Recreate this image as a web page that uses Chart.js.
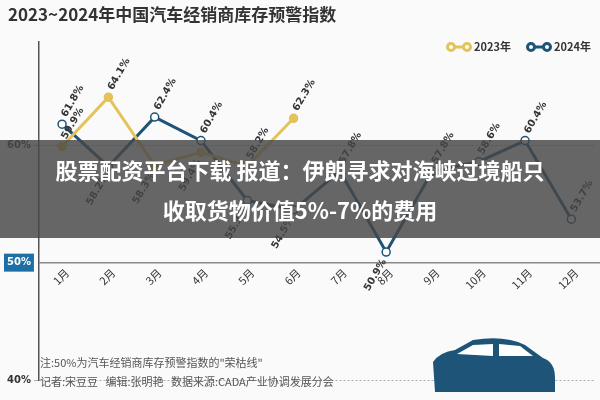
<!DOCTYPE html>
<html>
<head>
<meta charset="utf-8">
<script src="https://cdn.jsdelivr.net/npm/chart.js@4"></script>
<style>
body { margin: 0; background: #fafafa; }
#wrap { position: relative; width: 600px; height: 400px; }
#banner { position: absolute; left: 0; top: 140px; width: 600px; height: 98px; background: rgba(70,70,70,0.82);
  color: #fff; font: bold 22px "Noto Sans CJK SC"; text-align: center; line-height: 40px; padding-top: 9px; box-sizing: border-box; }
</style>
</head>
<body>
<div id="wrap">
<canvas id="c" width="600" height="400"></canvas>
<div id="banner">股票配资平台下载 报道：伊朗寻求对海峡过境船只<br>收取货物价值5%-7%的费用</div>
</div>
<script>
// data
var months = ["1月", "2月", "3月", "4月", "5月", "6月", "7月", "8月", "9月", "10月", "11月", "12月"];
var y2023 = [59.9, 64.1, 58.3, 59.4, 58.2, 62.3, null, null, null, null, null, null];
var y2024 = [61.8, 58.2, 62.4, 60.4, 55.3, 54.5, 57.8, 50.9, 57.8, 58.6, 60.4, 53.7];
var yTicks = [40, 50, 60];

var YELLOW = "#e3c35a";
var BLUE = "#1d5477";

// title, legend, point labels, month labels, notes
var decor = {
    id: "decor",
    afterDraw: function (chart)
    {
        var ctx = chart.ctx;
        var y = chart.scales.y, x = chart.scales.x;
        ctx.save();
        ctx.fillStyle = "#333";
        ctx.font = "bold 17px 'Noto Sans CJK SC'";
        ctx.textBaseline = "middle";
        ctx.fillText("2023~2024年中国汽车经销商库存预警指数", 8, 15);

        // legend
        var leg = [["2023年", YELLOW, 448], ["2024年", BLUE, 528]];
        leg.forEach(function (l)
        {
            ctx.strokeStyle = l[1]; ctx.lineWidth = 3;
            ctx.beginPath(); ctx.moveTo(l[2], 47); ctx.lineTo(l[2] + 22, 47); ctx.stroke();
            ctx.fillStyle = "#fff";
            [l[2] + 3, l[2] + 19].forEach(function (px)
            {
                ctx.beginPath(); ctx.arc(px, 47, 3.5, 0, Math.PI * 2); ctx.fill(); ctx.stroke();
            });
            ctx.fillStyle = "#333"; ctx.font = "bold 11px 'Noto Sans CJK SC'";
            ctx.fillText(l[0], l[2] + 26, 47);
        });

        // 50% axis line
        var y50 = y.getPixelForValue(50);
        ctx.strokeStyle = "#888"; ctx.lineWidth = 1.5;
        ctx.beginPath(); ctx.moveTo(chart.chartArea.left, y50); ctx.lineTo(600, y50); ctx.stroke();

        // point labels
        ctx.font = "bold 10px 'DejaVu Sans'";
        ctx.textBaseline = "middle";
        chart.data.datasets.forEach(function (ds, di)
        {
            chart.getDatasetMeta(di).data.forEach(function (pt, i)
            {
                if (ds.data[i] == null) return;
                var below = ds.labelBelow[i];
                ctx.save();
                ctx.translate(pt.x + (below ? -2 : 2), pt.y + (below ? 8 : -8));
                ctx.rotate(-Math.PI / 3);
                ctx.fillStyle = "#333";
                ctx.textAlign = below ? "right" : "left";
                ctx.fillText(ds.data[i].toFixed(1) + "%", 0, 0);
                ctx.restore();
            });
        });

        // month labels under the 50% line
        ctx.font = "11px 'Noto Sans CJK SC'";
        months.forEach(function (m, i)
        {
            ctx.save();
            ctx.translate(x.getPixelForValue(i) + 5, y50 + 8);
            ctx.rotate(-Math.PI / 4);
            ctx.textAlign = "right";
            ctx.fillStyle = "#333";
            ctx.fillText(m, 0, 0);
            ctx.restore();
        });

        // notes
        ctx.font = "11px 'Noto Sans CJK SC'";
        ctx.fillStyle = "#555";
        ctx.textAlign = "left";
        ctx.fillText("注:50%为汽车经销商库存预警指数的\"荣枯线\"", 40, 363);
        ctx.fillText("记者:宋豆豆   编辑:张明艳   数据来源:CADA产业协调发展分会", 40, 382);

        // car silhouette
        ctx.fillStyle = BLUE;
        ctx.beginPath();
        ctx.moveTo(435, 392); ctx.lineTo(433, 362); ctx.quadraticCurveTo(440, 352, 455, 350);
        ctx.lineTo(473, 340); ctx.quadraticCurveTo(505, 335, 525, 345); ctx.lineTo(543, 358);
        ctx.quadraticCurveTo(555, 362, 555, 378); ctx.lineTo(555, 392); ctx.closePath(); ctx.fill();
        ctx.fillStyle = "#fff";
        ctx.beginPath(); ctx.moveTo(457, 354); ctx.lineTo(473, 345); ctx.lineTo(493, 344); ctx.lineTo(493, 356); ctx.closePath(); ctx.fill();
        ctx.beginPath(); ctx.moveTo(499, 344); ctx.lineTo(520, 346); ctx.lineTo(533, 356); ctx.lineTo(499, 356); ctx.closePath(); ctx.fill();
        ctx.restore();
    }
};

new Chart(document.getElementById("c"), {
    type: "line",
    plugins: [decor],
    data: {
        labels: months,
        datasets: [
            { label: "2023年", data: y2023, borderColor: YELLOW, backgroundColor: "#fff", borderWidth: 3,
              pointRadius: 4, pointBorderWidth: 1.5, pointBackgroundColor: YELLOW, spanGaps: false,
              labelBelow: [false, false, true, true, false, false] },
            { label: "2024年", data: y2024, borderColor: BLUE, backgroundColor: "#fff", borderWidth: 3,
              pointRadius: 4, pointBorderWidth: 1.5,
              labelBelow: [false, true, false, false, true, true, false, true, false, false, false, false] }
        ]
    },
    options: {
        animation: false,
        responsive: false,
        layout: { padding: { top: 42, right: 2, bottom: 12, left: 4 } },
        plugins: { legend: { display: false }, tooltip: { enabled: false } },
        scales: {
            x: { offset: true, grid: { display: false }, border: { display: false }, ticks: { display: false } },
            y: {
                min: 40, max: 68.8,
                afterBuildTicks: function (s) { s.ticks = yTicks.map(function (v) { return { value: v }; }); },
                grid: { color: function (c) { return c.tick.value === 50 ? "rgba(0,0,0,0)" : "#aaa"; }, drawTicks: true, tickLength: 5 },
                border: { color: "#555", width: 1.5, dash: [2, 2] },
                ticks: {
                    font: { size: 10, weight: "bold", family: "DejaVu Sans" },
                    color: function (c) { return c.tick.value === 50 ? "#fff" : "#333"; },
                    showLabelBackdrop: true,
                    backdropColor: function (c) { return c.tick.value === 50 ? "#1d6fa5" : "rgba(0,0,0,0)"; },
                    backdropPadding: 3,
                    callback: function (v) { return v + "%"; }
                }
            }
        }
    }
});
</script>
</body>
</html>
